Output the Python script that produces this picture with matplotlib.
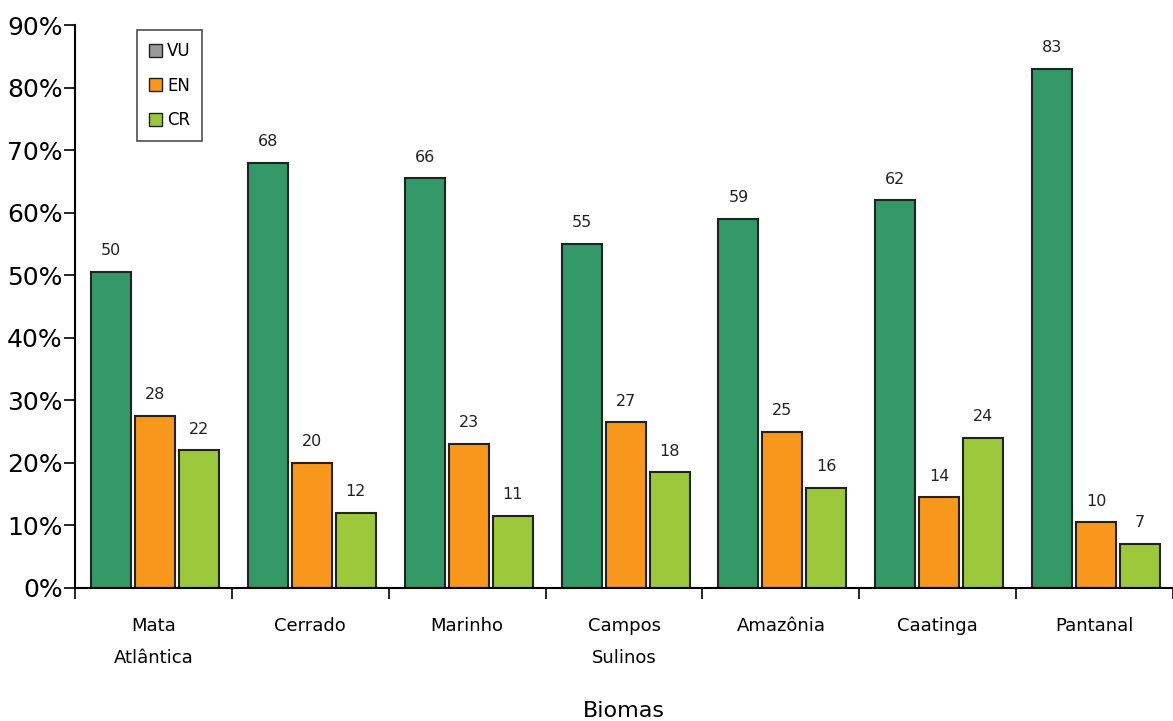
import numpy as np
import matplotlib.pyplot as plt
from matplotlib.patches import Patch

biomas = ["Mata\nAtlântica", "Cerrado", "Marinho", "Campos\nSulinos", "Amazônia", "Caatinga", "Pantanal"]
vu = [50.5, 68, 65.5, 55, 59, 62, 83]
en = [27.5, 20, 23, 26.5, 25, 14.5, 10.5]
cr = [22, 12, 11.5, 18.5, 16, 24, 7]
vu_lbl = [50, 68, 66, 55, 59, 62, 83]
en_lbl = [28, 20, 23, 27, 25, 14, 10]
cr_lbl = [22, 12, 11, 18, 16, 24, 7]

c_vu = "#339966"
c_en = "#F7981D"
c_cr = "#9BC93B"

fig = plt.figure(figsize=(11.73, 7.21), dpi=100)
ax = fig.add_axes([0.064, 0.1845, 0.936, 0.7805])

x = np.arange(len(biomas))
w = 0.255
for off, vals, lbls, col in [(0.229, vu, vu_lbl, c_vu), (0.51, en, en_lbl, c_en), (0.79, cr, cr_lbl, c_cr)]:
    ax.bar(x + off, vals, width=w, color=col, edgecolor="#222222", linewidth=1.5)
    for xi, v, l in zip(x + off, vals, lbls):
        ax.text(xi, v + 2.2, str(l), ha="center", va="bottom", fontsize=11.5, color="#222222")

ax.set_xlim(0, 7)
ax.set_ylim(0, 90)
ax.set_yticks(range(0, 91, 10))
ax.set_yticklabels([f"{v}%" for v in range(0, 91, 10)], fontsize=18)
ax.set_xticks(range(0, 8))
ax.set_xticklabels([])
ax.set_xticks(x + 0.5, minor=True)
ax.set_xticklabels(biomas, minor=True, fontsize=13, linespacing=2.0)
ax.tick_params(axis="x", which="minor", length=0, pad=21)
ax.tick_params(axis="x", which="major", length=8, width=1.2, direction="out")
ax.tick_params(axis="y", length=8, width=1.2, direction="out", pad=1)
ax.spines["top"].set_visible(False)
ax.spines["right"].set_visible(False)
ax.spines["left"].set_linewidth(1.5)
ax.spines["bottom"].set_linewidth(1.5)
fig.text(0.532, 0.0139, "Biomas", fontsize=16, ha="center", va="center")

handles = [Patch(facecolor="#999999", edgecolor="#222222", label="VU"),
           Patch(facecolor=c_en, edgecolor="#222222", label="EN"),
           Patch(facecolor=c_cr, edgecolor="#222222", label="CR")]
leg = ax.legend(handles=handles, loc="upper left", bbox_to_anchor=(0.0565, 0.991), borderaxespad=0,
                fontsize=12, frameon=True, fancybox=False, edgecolor="#222222",
                handlelength=0.8, handleheight=0.8, labelspacing=1.0, handletextpad=0.3, borderpad=0.7)
leg.get_frame().set_linewidth(1.2)

fig.savefig("out.png", dpi=100)
